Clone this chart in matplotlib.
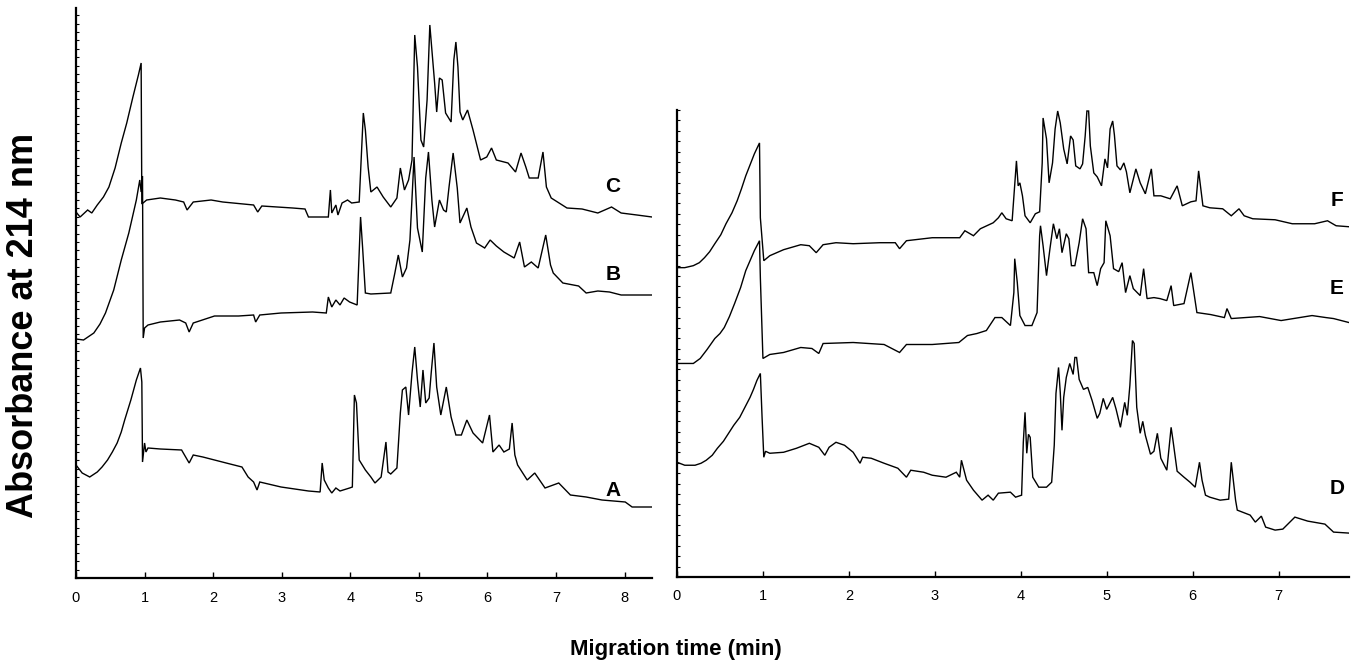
import matplotlib
matplotlib.use("Agg")
import matplotlib.pyplot as plt
from matplotlib.ticker import MultipleLocator, NullFormatter

plt.rcParams['font.family'] = ['Liberation Sans', 'DejaVu Sans']

# ---------------- data: migration time (min) and absorbance (arb. units) -------------
c_t = [0, 0.06, 0.17, 0.23, 0.31, 0.40, 0.48, 0.57, 0.66, 0.74, 0.83, 0.91, 0.95, 0.96, 1.03, 1.23, 1.45, 1.57, 1.62,
       1.71, 1.97, 2.14, 2.59, 2.65, 2.71, 3.16, 3.34, 3.39, 3.68, 3.71, 3.73, 3.79, 3.82, 3.88, 3.96, 4.02, 4.13,
       4.19, 4.22, 4.26, 4.30, 4.39, 4.48, 4.59, 4.68, 4.73, 4.79, 4.85, 4.90, 4.94, 4.98, 5.03, 5.07, 5.12, 5.16,
       5.19, 5.23, 5.26, 5.30, 5.34, 5.39, 5.47, 5.51, 5.54, 5.57, 5.60, 5.64, 5.71, 5.79, 5.90, 5.99, 6.06, 6.13,
       6.30, 6.41, 6.49, 6.56, 6.61, 6.74, 6.81, 6.86, 6.93, 7.16, 7.38, 7.61, 7.81, 7.95, 8.18, 8.40]
c_v = [36.6, 36.1, 36.8, 36.5, 37.3, 38.1, 39.1, 41.0, 43.5, 45.5, 48.1, 50.3, 51.5, 37.4, 37.8, 38.0, 37.8, 37.6, 36.8,
       37.6, 37.8, 37.6, 37.3, 36.6, 37.2, 37.0, 36.9, 36.1, 36.1, 38.8, 36.5, 37.3, 36.3, 37.5, 37.8, 37.5, 37.6,
       46.5, 44.8, 41.1, 38.6, 39.1, 38.1, 37.1, 38.0, 41.0, 38.8, 39.8, 41.8, 54.3, 51.1, 43.8, 43.1, 47.8, 55.3,
       52.8, 49.5, 46.6, 50.0, 49.8, 46.5, 45.6, 51.8, 53.6, 51.1, 46.6, 45.8, 46.8, 44.8, 41.8, 42.1, 43.0, 41.8,
       41.5, 40.6, 42.5, 41.1, 40.0, 40.0, 42.6, 39.1, 38.0, 37.0, 36.9, 36.5, 37.1, 36.5, 36.3, 36.1]

b_t = [0, 0.11, 0.26, 0.35, 0.43, 0.55, 0.66, 0.77, 0.88, 0.93, 0.95, 0.97, 0.98, 1.0, 1.05, 1.23, 1.51, 1.60, 1.65,
       1.71, 2.02, 2.37, 2.59, 2.62, 2.68, 2.99, 3.45, 3.65, 3.68, 3.73, 3.79, 3.85, 3.91, 3.99, 4.10, 4.15, 4.18,
       4.22, 4.30, 4.59, 4.65, 4.70, 4.76, 4.82, 4.87, 4.93, 4.98, 5.05, 5.10, 5.14, 5.19, 5.23, 5.30, 5.36, 5.40,
       5.44, 5.50, 5.56, 5.60, 5.70, 5.76, 5.84, 5.96, 6.04, 6.13, 6.24, 6.39, 6.47, 6.54, 6.64, 6.74, 6.85, 6.92,
       6.96, 7.10, 7.33, 7.44, 7.61, 7.78, 7.95, 8.40]
b_v = [23.9, 23.8, 24.5, 25.4, 26.5, 28.8, 31.8, 34.5, 37.8, 39.8, 38.6, 40.2, 24.0, 25.0, 25.3, 25.6, 25.8, 25.5, 24.6,
       25.5, 26.2, 26.2, 26.3, 25.6, 26.3, 26.5, 26.6, 26.5, 28.1, 27.1, 27.8, 27.3, 28.0, 27.6, 27.3, 36.1, 33.0,
       28.5, 28.4, 28.5, 30.5, 32.3, 30.1, 31.0, 33.8, 42.1, 35.0, 32.6, 40.0, 42.6, 37.8, 35.1, 37.8, 36.8, 36.6,
       39.1, 42.5, 39.0, 35.5, 37.0, 35.1, 33.5, 33.0, 33.8, 33.2, 32.6, 32.0, 33.6, 31.1, 31.6, 31.0, 34.3, 31.3,
       30.5, 29.5, 29.2, 28.5, 28.7, 28.6, 28.3, 28.3]

a_t = [0, 0.09, 0.2, 0.31, 0.38, 0.46, 0.53, 0.6, 0.66, 0.71, 0.80, 0.88, 0.94, 0.96, 0.97, 1.0, 1.02, 1.05, 1.23,
       1.54, 1.65, 1.71, 1.85, 2.19, 2.42, 2.51, 2.59, 2.64, 2.68, 2.99, 3.39, 3.56, 3.59, 3.62, 3.68, 3.73, 3.79,
       3.85, 3.99, 4.03, 4.06, 4.09, 4.13, 4.22, 4.30, 4.36, 4.45, 4.52, 4.55, 4.59, 4.68, 4.73, 4.76, 4.81, 4.85,
       4.90, 4.94, 4.98, 5.02, 5.06, 5.10, 5.15, 5.18, 5.22, 5.26, 5.32, 5.40, 5.47, 5.54, 5.62, 5.70, 5.79, 5.93,
       6.03, 6.08, 6.17, 6.24, 6.32, 6.36, 6.40, 6.44, 6.58, 6.69, 6.84, 7.04, 7.21, 7.44, 7.67, 8.01, 8.11, 8.40]
a_v = [11.3, 10.5, 10.1, 10.6, 11.1, 11.8, 12.6, 13.5, 14.6, 15.8, 17.8, 19.8, 21.0, 19.6, 11.6, 13.5, 12.6, 13.0,
       12.9, 12.8, 11.5, 12.3, 12.1, 11.5, 11.1, 10.1, 9.6, 8.8, 9.6, 9.1, 8.7, 8.6, 11.5, 9.8, 9.0, 8.5, 9.0, 8.7,
       9.0, 9.1, 18.3, 17.5, 11.8, 10.8, 10.1, 9.5, 10.1, 13.6, 10.6, 10.4, 11.0, 16.5, 18.8, 19.1, 16.3, 20.5,
       23.1, 19.8, 17.1, 20.8, 17.5, 18.0, 20.5, 23.5, 19.1, 16.3, 19.1, 16.1, 14.3, 14.3, 15.8, 14.5, 13.5, 16.3,
       12.6, 13.3, 12.6, 12.9, 15.5, 12.3, 11.3, 9.8, 10.5, 9.0, 9.5, 8.3, 8.1, 7.8, 7.6, 7.1, 7.1]

f_t = [0, 0.09, 0.19, 0.26, 0.32, 0.38, 0.44, 0.51, 0.57, 0.64, 0.70, 0.75, 0.80, 0.85, 0.90, 0.96, 0.97, 1.01, 1.08,
       1.24, 1.44, 1.54, 1.62, 1.70, 1.85, 2.05, 2.36, 2.54, 2.59, 2.67, 2.97, 3.29, 3.35, 3.45, 3.53, 3.68, 3.74,
       3.78, 3.83, 3.90, 3.95, 3.97, 3.99, 4.02, 4.05, 4.11, 4.17, 4.22, 4.25, 4.26, 4.30, 4.33, 4.37, 4.40, 4.43,
       4.46, 4.50, 4.54, 4.58, 4.61, 4.64, 4.69, 4.72, 4.75, 4.77, 4.79, 4.81, 4.85, 4.89, 4.94, 4.98, 5.01, 5.04,
       5.07, 5.09, 5.12, 5.16, 5.20, 5.23, 5.27, 5.34, 5.39, 5.45, 5.52, 5.55, 5.63, 5.74, 5.82, 5.88, 5.98, 6.04,
       6.07, 6.12, 6.20, 6.35, 6.45, 6.54, 6.60, 6.70, 6.96, 7.16, 7.42, 7.57, 7.67, 7.82]
f_v = [31.0, 31.0, 31.2, 31.5, 32.0, 32.6, 33.4, 34.3, 35.4, 36.5, 37.7, 38.9, 40.2, 41.3, 42.4, 43.5, 36.0, 31.7,
       32.2, 32.8, 33.3, 33.2, 32.5, 33.3, 33.5, 33.4, 33.5, 33.5, 32.9, 33.7, 34.0, 34.0, 34.7, 34.2, 34.9, 35.5,
       36.0, 36.5, 35.9, 35.7, 41.7, 39.2, 39.5, 38.2, 36.2, 35.5, 36.4, 36.6, 41.5, 46.0, 43.9, 39.5, 41.5, 44.9,
       46.7, 45.5, 42.9, 41.4, 44.2, 43.8, 41.2, 40.9, 41.4, 44.2, 46.7, 46.7, 43.2, 40.5, 40.1, 39.2, 41.9, 41.0,
       44.9, 45.7, 44.3, 41.2, 40.8, 41.5, 40.6, 38.5, 40.9, 39.5, 38.4, 40.9, 38.2, 38.2, 37.9, 39.2, 37.2, 37.6,
       37.7, 40.7, 37.2, 37.0, 36.9, 36.2, 36.9, 36.2, 35.9, 35.8, 35.4, 35.4, 35.7, 35.2, 35.1]

e_t = [0, 0.19, 0.27, 0.35, 0.44, 0.50, 0.55, 0.61, 0.67, 0.74, 0.80, 0.85, 0.90, 0.96, 0.97, 1.0, 1.08, 1.24, 1.44,
       1.57, 1.65, 1.70, 2.05, 2.41, 2.59, 2.67, 2.97, 3.28, 3.38, 3.49, 3.60, 3.70, 3.78, 3.88, 3.92, 3.93, 3.96,
       3.99, 4.05, 4.13, 4.19, 4.22, 4.23, 4.26, 4.30, 4.34, 4.38, 4.42, 4.45, 4.48, 4.53, 4.56, 4.59, 4.63, 4.68,
       4.72, 4.76, 4.79, 4.85, 4.89, 4.93, 4.97, 4.99, 5.04, 5.08, 5.14, 5.18, 5.22, 5.27, 5.31, 5.39, 5.43, 5.47,
       5.55, 5.62, 5.70, 5.75, 5.78, 5.90, 5.98, 6.01, 6.05, 6.21, 6.37, 6.40, 6.45, 6.78, 7.03, 7.39, 7.55, 7.64,
       7.82]
e_v = [21.4, 21.4, 21.9, 22.8, 23.9, 24.4, 25.0, 26.1, 27.4, 29.0, 30.7, 31.7, 32.7, 33.7, 30.0, 21.9, 22.3, 22.5,
       23.0, 22.9, 22.4, 23.4, 23.5, 23.3, 22.5, 23.3, 23.3, 23.5, 24.2, 24.4, 24.7, 26.0, 26.0, 25.2, 28.5, 31.9,
       29.5, 26.2, 25.2, 25.2, 26.5, 34.2, 35.2, 33.2, 30.2, 32.9, 35.4, 33.9, 34.9, 32.5, 34.4, 33.9, 31.2, 31.2,
       33.5, 35.9, 34.9, 30.5, 30.5, 29.2, 30.9, 31.5, 35.7, 34.2, 30.9, 30.6, 31.5, 28.5, 30.2, 28.9, 28.2, 30.9,
       27.9, 28.0, 27.9, 27.7, 29.2, 27.2, 27.4, 30.5, 28.8, 26.5, 26.3, 26.0, 26.9, 25.9, 26.1, 25.7, 26.2, 26.0,
       25.9, 25.5]

d_t = [0, 0.09, 0.21, 0.28, 0.34, 0.41, 0.47, 0.54, 0.60, 0.66, 0.73, 0.79, 0.85, 0.89, 0.93, 0.97, 0.99, 1.01,
       1.03, 1.08, 1.24, 1.39, 1.54, 1.65, 1.72, 1.77, 1.85, 1.95, 2.05, 2.13, 2.16, 2.26, 2.41, 2.57, 2.67, 2.72,
       2.87, 2.97, 3.13, 3.25, 3.29, 3.31, 3.37, 3.45, 3.55, 3.62, 3.68, 3.74, 3.88, 3.94, 4.01, 4.03, 4.05, 4.07,
       4.09, 4.11, 4.14, 4.21, 4.30, 4.36, 4.39, 4.41, 4.44, 4.46, 4.48, 4.50, 4.53, 4.57, 4.61, 4.63, 4.65, 4.68,
       4.73, 4.78, 4.83, 4.89, 4.92, 4.96, 5.00, 5.07, 5.11, 5.16, 5.21, 5.24, 5.27, 5.30, 5.32, 5.35, 5.39, 5.42,
       5.45, 5.51, 5.55, 5.59, 5.63, 5.70, 5.75, 5.77, 5.82, 5.90, 5.97, 6.03, 6.08, 6.11, 6.15, 6.20, 6.32, 6.42,
       6.45, 6.50, 6.52, 6.67, 6.73, 6.80, 6.85, 6.96, 7.05, 7.19, 7.34, 7.54, 7.64, 7.82]
d_v = [11.5, 11.2, 11.2, 11.4, 11.7, 12.2, 12.9, 13.6, 14.4, 15.2, 16.0, 17.0, 18.0, 18.8, 19.7, 20.4, 16.0, 12.0,
       12.6, 12.4, 12.5, 12.9, 13.4, 13.0, 12.2, 13.0, 13.5, 13.2, 12.5, 11.4, 12.0, 11.9, 11.4, 10.9, 10.0, 10.7,
       10.5, 10.2, 10.0, 10.5, 10.0, 11.7, 9.7, 8.7, 7.7, 8.2, 7.7, 8.4, 8.5, 8.0, 8.2, 13.5, 16.5, 12.4, 14.3,
       14.0, 10.0, 9.0, 9.0, 9.5, 13.2, 18.4, 21.0, 18.5, 14.7, 18.0, 20.0, 21.4, 20.3, 22.0, 22.0, 19.8, 18.8,
       19.0, 17.7, 15.9, 16.4, 17.9, 16.8, 18.0, 16.8, 15.0, 17.5, 16.2, 19.2, 23.7, 23.4, 17.0, 14.4, 15.6, 14.2,
       12.3, 12.6, 14.4, 11.9, 10.7, 15.0, 13.8, 10.6, 10.0, 9.5, 9.0, 11.5, 9.7, 8.2, 8.0, 7.7, 7.8, 11.5, 7.7,
       6.7, 6.2, 5.5, 6.1, 5.0, 4.7, 4.8, 6.0, 5.6, 5.3, 4.5, 4.4]

left_labels = ["C", "B", "A"]
right_labels = ["F", "E", "D"]
x_ticks_left = [0, 1, 2, 3, 4, 5, 6, 7, 8]
x_ticks_right = [0, 1, 2, 3, 4, 5, 6, 7]

# ---------------- figure -------------
W, H = 1351, 671
fig = plt.figure(figsize=(W / 100, H / 100), dpi=100)

def px_axes(x0, x1, ytop, ybot):
    return fig.add_axes([x0 / W, (H - ybot) / H, (x1 - x0) / W, (ybot - ytop) / H])

axL = px_axes(76, 652, 8, 578)
axR = px_axes(677, 1349, 110, 577)

line_kw = dict(color='black', lw=1.0, solid_joinstyle='miter')
for t, v in [(c_t, c_v), (b_t, b_v), (a_t, a_v)]:
    axL.plot(t, v, **line_kw)
for t, v in [(f_t, f_v), (e_t, e_v), (d_t, d_v)]:
    axR.plot(t, v, **line_kw)

axL.set_xlim(0, 8.40)
axL.set_ylim(0, 57.0)
axR.set_xlim(0, 7.82)
axR.set_ylim(0, 46.8)

for ax, xt, ystep in [(axL, x_ticks_left, 0.84), (axR, x_ticks_right, 1.04)]:
    for s in ['top', 'right']:
        ax.spines[s].set_visible(False)
    for s in ['left', 'bottom']:
        ax.spines[s].set_linewidth(1.6)
    ax.set_xticks(xt)
    ax.set_xticklabels([str(x) for x in xt])
    ax.yaxis.set_major_locator(MultipleLocator(ystep))
    ax.yaxis.set_major_formatter(NullFormatter())
    ax.tick_params(axis='y', direction='in', length=2.5, width=0.8)
    ax.tick_params(axis='x', direction='in', length=4, width=1.0, labelsize=10.5, pad=9)
    ax.patch.set_alpha(0)

# trace labels
lab_kw = dict(fontsize=15, fontweight='bold', ha='center', va='center')
for lab, y in zip(left_labels, [39.1, 30.4, 8.8]):
    axL.text(7.83, y, lab, **lab_kw)
for lab, y in zip(right_labels, [37.7, 28.9, 8.9]):
    axR.text(7.68, y, lab, **lab_kw)

fig.text(24 / W, 1 - 325 / H, "Absorbance at 214 nm", rotation=90, fontsize=26,
         fontweight='bold', ha='center', va='center')
fig.text(676 / W, 1 - 650 / H, "Migration time (min)", fontsize=16,
         fontweight='bold', ha='center', va='center')

fig.savefig("out.png", dpi=100)
